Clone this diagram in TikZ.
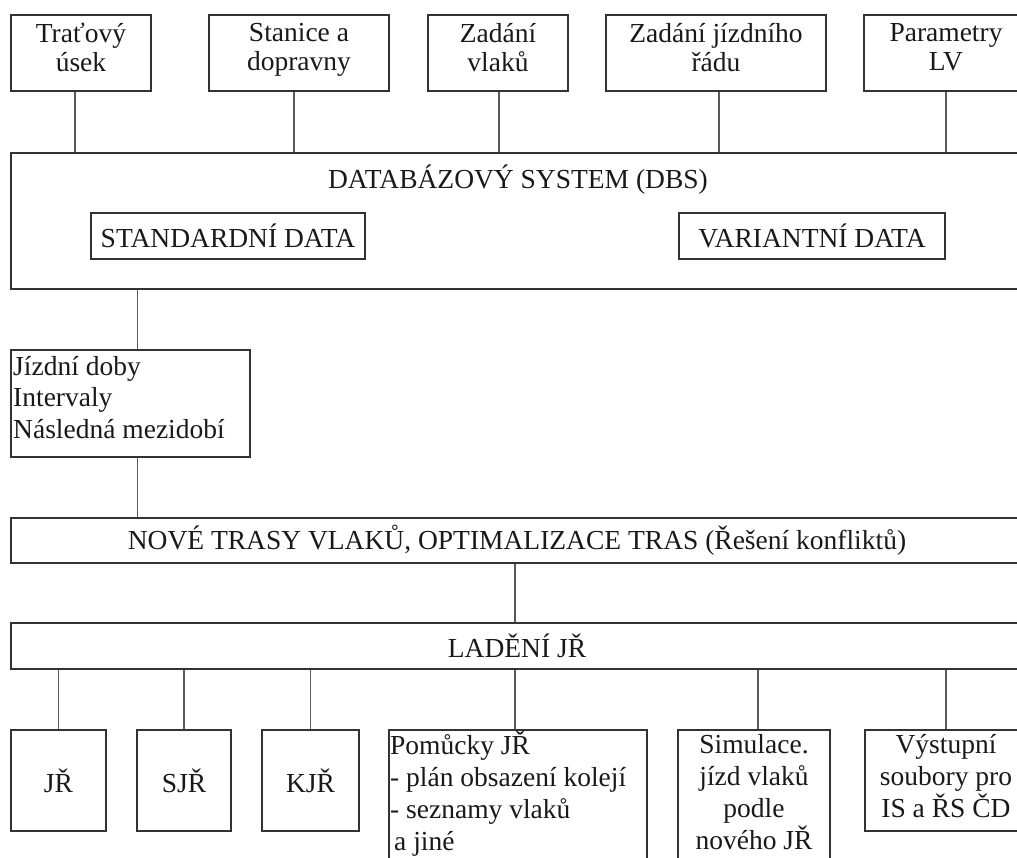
\documentclass[tikz,border=0pt]{standalone}
\usepackage{fontspec}
\setmainfont{Liberation Serif}
\usetikzlibrary{positioning}
\begin{document}
\begin{tikzpicture}[x=1pt, y=-1pt,
        every node/.style={font=\fontsize{27.5}{32}\selectfont, text=black!90},
        box/.style={draw=black!80, line width=2pt, rectangle, anchor=north west, inner sep=2pt},
        txt/.style={inner sep=0pt, align=center},
        toptxt/.style={txt, font=\fontsize{27.5}{29}\selectfont},
        link/.style={draw=black!65, line width=1.5pt}]
    \useasboundingbox (0,0) rectangle (1017,857);
    \clip (0,0) rectangle (1017,857);
    \node [box, minimum width=140, minimum height=76] (trat) at (10,14) {};
    \node [box, minimum width=180, minimum height=76] (stanice) at (208,14) {};
    \node [box, minimum width=140, minimum height=76] (vlaky) at (427,14) {};
    \node [box, minimum width=220, minimum height=76] (rad) at (605,14) {};
    \node [box, minimum width=164, minimum height=76] (lv) at (863,14) {};
    \node [toptxt, below=9pt of trat.north] (trattxt) {Traťový\\úsek};
    \node [toptxt, below=9pt of stanice.north] (stanicetxt) {Stanice a\\dopravny};
    \node [toptxt, below=9pt of vlaky.north] (vlakytxt) {Zadání\\vlaků};
    \node [toptxt, below=9pt of rad.north] (radtxt) {Zadání jízdního\\řádu};
    \node [toptxt, below=9pt of lv.north] (lvtxt) {Parametry\\LV};
    \node [box, minimum width=1012, minimum height=136] (dbs) at (10,152) {};
    \node [txt, anchor=base] (dbstitle) at (518,188) {DATABÁZOVÝ SYSTEM (DBS)};
    \node [box, minimum width=274, minimum height=46] (std) at (90,212) {STANDARDNÍ DATA};
    \node [box, minimum width=266, minimum height=46] (var) at (678,212) {VARIANTNÍ DATA};
    \node [box, minimum width=239, minimum height=107] (jizdni) at (10,349) {};
    \node [txt, align=left, below right=7pt and 3pt of jizdni.north west, font=\fontsize{27.5}{31.5}\selectfont] (jizdnitxt) {Jízdní doby\\Intervaly\\Následná mezidobí};
    \node [box, minimum width=1012, minimum height=45] (nove) at (10,517) {NOVÉ TRASY VLAKŮ, OPTIMALIZACE TRAS (Řešení konfliktů)};
    \node [box, minimum width=1012, minimum height=46] (ladeni) at (10,622) {LADĚNÍ JŘ};
    \node [box, minimum width=95, minimum height=101] (jr) at (10,729) {JŘ};
    \node [box, minimum width=94, minimum height=101] (sjr) at (136,729) {SJŘ};
    \node [box, minimum width=97, minimum height=101] (kjr) at (261,729) {KJŘ};
    \node [box, minimum width=258, minimum height=150] (pomucky) at (388,729) {};
    \node [box, minimum width=152, minimum height=150] (simulace) at (677,729) {};
    \node [box, minimum width=162, minimum height=101] (vystup) at (864,729) {};
    \node [txt, align=left, below right=2pt and 2pt of pomucky.north west] (pomuckytxt) {Pomůcky JŘ\\- plán obsazení kolejí\\- seznamy vlaků\\\kern4pt a jiné};
    \node [txt, below=5pt of simulace.north] (simulacetxt) {Simulace.\\jízd vlaků\\podle\\nového JŘ};
    \node [txt, below=5pt of vystup.north] (vystuptxt) {Výstupní\\soubory pro\\IS a ŘS ČD};
    \foreach \n/\dx in {trat/-6, stanice/-5, vlaky/1, rad/3, lv/0}
        \draw [link] ([xshift=\dx pt]\n.south) -- ([xshift=\dx pt]\n.south |- dbs.north);
    \draw [link] ([xshift=7pt]jizdni.north) -- ([xshift=7pt]jizdni.north |- dbs.south);
    \draw [link] ([xshift=7pt]jizdni.south) -- ([xshift=7pt]jizdni.south |- nove.north);
    \draw [link] ([xshift=-2pt]nove.south) -- ([xshift=-2pt]nove.south |- ladeni.north);
    \foreach \n/\dx in {jr/0, sjr/0, kjr/0, pomucky/-3, simulace/4, vystup/0}
        \draw [link] ([xshift=\dx pt]\n.north) -- ([xshift=\dx pt]\n.north |- ladeni.south);
\end{tikzpicture}
\end{document}
